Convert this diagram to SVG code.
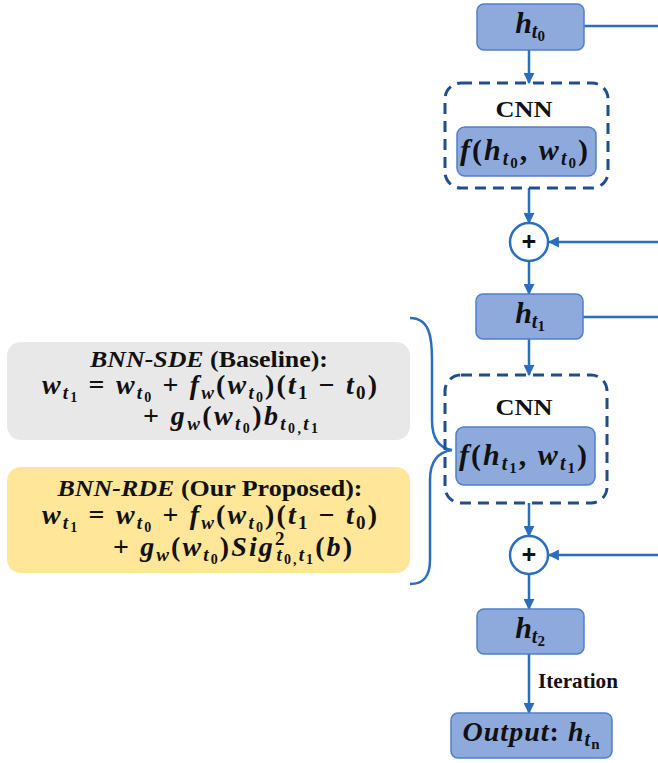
<svg xmlns="http://www.w3.org/2000/svg" width="658" height="763" viewBox="0 0 658 763">
<defs>
<style>
.node{fill:#8eaadc;stroke:#4f7fc8;stroke-width:1.5}
.dash{fill:none;stroke:#1f4e8c;stroke-width:3;stroke-dasharray:11 7}
.plus{fill:#fff;stroke:#2a6ebd;stroke-width:2.5}
.con{fill:none;stroke:#2a6ebd;stroke-width:2.5}
.m{font-family:"Liberation Serif","Times New Roman","Tinos","Noto Serif","DejaVu Serif",serif;font-weight:bold;font-style:italic;fill:#111}
.u{font-style:normal}
.t{font-family:"Liberation Serif","Times New Roman","Tinos","Noto Serif","DejaVu Serif",serif;font-weight:bold;fill:#111}
.pl{font-family:"Noto Sans","Liberation Sans",sans-serif;font-weight:bold;fill:#111}
.sb{font-size:19px}
.ss{font-size:14px;font-style:normal}
.nb{font-size:20px}
.ns{font-size:15px;font-style:normal}
</style>
<marker id="ah" viewBox="0 0 10 10" refX="9" refY="5" markerWidth="4.4" markerHeight="4.4" orient="auto" markerUnits="strokeWidth">
<path d="M0,0 L10,5 L0,10 z" fill="#2a6ebd"/>
</marker>
</defs>
<rect width="658" height="763" fill="#fff"/>

<g id="connectors">
<line class="con" x1="584" y1="26" x2="658" y2="26"/>
<line class="con" x1="529" y1="50" x2="529" y2="83" marker-end="url(#ah)"/>
<line class="con" x1="529" y1="188" x2="529" y2="223" marker-end="url(#ah)"/>
<line class="con" x1="658" y1="242" x2="549" y2="242" marker-end="url(#ah)"/>
<line class="con" x1="529" y1="261" x2="529" y2="294" marker-end="url(#ah)"/>
<line class="con" x1="583" y1="317" x2="658" y2="317"/>
<line class="con" x1="529" y1="339" x2="529" y2="375" marker-end="url(#ah)"/>
<line class="con" x1="529" y1="503" x2="529" y2="536" marker-end="url(#ah)"/>
<line class="con" x1="658" y1="555" x2="549" y2="555" marker-end="url(#ah)"/>
<line class="con" x1="529" y1="574" x2="529" y2="609" marker-end="url(#ah)"/>
<line class="con" x1="529" y1="654" x2="529" y2="713" marker-end="url(#ah)"/>
<path class="con" d="M410,318 C430,318 432,338 432,360 L432,420 C432,438 438,448 452,450"/>
<path class="con" d="M452,450 C438,452 430,462 430,480 L430,560 C430,576 424,584 410,584"/>
<text class="t" x="538" y="688" font-size="21" textLength="80" lengthAdjust="spacingAndGlyphs">Iteration</text>
</g>

<g id="h_t0">
<rect class="node" x="477" y="4" width="107" height="46" rx="7"/>
<text class="m" x="530" y="33" font-size="30" text-anchor="middle">h<tspan class="nb" dy="5">t</tspan><tspan class="ns" dy="3">0</tspan></text>
</g>

<g id="cnn0">
<rect class="dash" x="445" y="83" width="163" height="105" rx="16"/>
<text class="t" x="524" y="117" font-size="24" text-anchor="middle" textLength="57" lengthAdjust="spacingAndGlyphs">CNN</text>
<rect class="node" x="457" y="127" width="139" height="49" rx="8"/>
<text class="m" x="524" y="160" font-size="30" text-anchor="middle" textLength="128" lengthAdjust="spacing">f<tspan class="u">(</tspan>h<tspan class="nb" dy="5">t</tspan><tspan class="ns" dy="3">0</tspan><tspan class="u" dy="-8">, </tspan>w<tspan class="nb" dy="5">t</tspan><tspan class="ns" dy="3">0</tspan><tspan class="u" dy="-8">)</tspan></text>
</g>

<g id="plus0">
<circle class="plus" cx="529" cy="242" r="19"/>
<text class="pl" x="529" y="251" font-size="26" text-anchor="middle">+</text>
</g>

<g id="h_t1">
<rect class="node" x="476" y="294" width="107" height="45" rx="7"/>
<text class="m" x="530" y="323" font-size="30" text-anchor="middle">h<tspan class="nb" dy="5">t</tspan><tspan class="ns" dy="3">1</tspan></text>
</g>

<g id="cnn1">
<rect class="dash" x="445" y="375" width="162" height="128" rx="16"/>
<text class="t" x="524" y="415" font-size="24" text-anchor="middle" textLength="57" lengthAdjust="spacingAndGlyphs">CNN</text>
<rect class="node" x="456" y="427" width="139" height="58" rx="8"/>
<text class="m" x="523" y="465" font-size="30" text-anchor="middle" textLength="128" lengthAdjust="spacing">f<tspan class="u">(</tspan>h<tspan class="nb" dy="5">t</tspan><tspan class="ns" dy="3">1</tspan><tspan class="u" dy="-8">, </tspan>w<tspan class="nb" dy="5">t</tspan><tspan class="ns" dy="3">1</tspan><tspan class="u" dy="-8">)</tspan></text>
</g>

<g id="plus1">
<circle class="plus" cx="529" cy="555" r="19"/>
<text class="pl" x="529" y="564" font-size="26" text-anchor="middle">+</text>
</g>

<g id="h_t2">
<rect class="node" x="477" y="609" width="107" height="45" rx="7"/>
<text class="m" x="530" y="638" font-size="30" text-anchor="middle">h<tspan class="nb" dy="5">t</tspan><tspan class="ns" dy="3">2</tspan></text>
</g>

<g id="output">
<rect class="node" x="451" y="713" width="161" height="45" rx="7"/>
<text class="m" x="531" y="741" font-size="28" text-anchor="middle" textLength="137" lengthAdjust="spacing">Output<tspan class="u">: </tspan>h<tspan class="nb" dy="5">t</tspan><tspan class="ns" dy="3" font-style="italic" font-size="17">n</tspan></text>
</g>

<g id="baseline">
<rect x="7" y="342" width="403" height="98" rx="14" fill="#e8e8e8"/>
<text class="t" x="209" y="367" font-size="24" text-anchor="middle" textLength="238" lengthAdjust="spacingAndGlyphs"><tspan font-style="italic">BNN-SDE</tspan> (Baseline):</text>
<text class="m" x="42" y="394" font-size="28" textLength="335" lengthAdjust="spacing">w<tspan class="sb" dy="5">t</tspan><tspan class="ss" dy="3">1</tspan><tspan class="u" dy="-8"> = </tspan>w<tspan class="sb" dy="5">t</tspan><tspan class="ss" dy="3">0</tspan><tspan class="u" dy="-8"> + </tspan>f<tspan class="sb" dy="5">w</tspan><tspan class="u" dy="-5">(</tspan>w<tspan class="sb" dy="5">t</tspan><tspan class="ss" dy="3">0</tspan><tspan class="u" dy="-8">)(</tspan>t<tspan class="sb u" dy="5">1</tspan><tspan class="u" dy="-5"> − </tspan>t<tspan class="sb u" dy="5">0</tspan><tspan class="u" dy="-5">)</tspan></text>
<text class="m" x="143" y="425" font-size="28" textLength="175" lengthAdjust="spacing"><tspan class="u">+ </tspan>g<tspan class="sb" dy="5">w</tspan><tspan class="u" dy="-5">(</tspan>w<tspan class="sb" dy="5">t</tspan><tspan class="ss" dy="3">0</tspan><tspan class="u" dy="-8">)</tspan>b<tspan class="sb" dy="5">t</tspan><tspan class="ss" dy="3">0,</tspan><tspan class="sb" dy="-3">t</tspan><tspan class="ss" dy="3">1</tspan></text>
</g>

<g id="proposed">
<rect x="7" y="467" width="403" height="106" rx="14" fill="#ffe699"/>
<text class="t" x="210" y="496" font-size="24" text-anchor="middle" textLength="305" lengthAdjust="spacingAndGlyphs"><tspan font-style="italic">BNN-RDE</tspan> (Our Proposed):</text>
<text class="m" x="42" y="524" font-size="28" textLength="335" lengthAdjust="spacing">w<tspan class="sb" dy="5">t</tspan><tspan class="ss" dy="3">1</tspan><tspan class="u" dy="-8"> = </tspan>w<tspan class="sb" dy="5">t</tspan><tspan class="ss" dy="3">0</tspan><tspan class="u" dy="-8"> + </tspan>f<tspan class="sb" dy="5">w</tspan><tspan class="u" dy="-5">(</tspan>w<tspan class="sb" dy="5">t</tspan><tspan class="ss" dy="3">0</tspan><tspan class="u" dy="-8">)(</tspan>t<tspan class="sb u" dy="5">1</tspan><tspan class="u" dy="-5"> − </tspan>t<tspan class="sb u" dy="5">0</tspan><tspan class="u" dy="-5">)</tspan></text>
<text class="m" x="113" y="556" font-size="28" textLength="239" lengthAdjust="spacing"><tspan class="u">+ </tspan>g<tspan class="sb" dy="5">w</tspan><tspan class="u" dy="-5">(</tspan>w<tspan class="sb" dy="5">t</tspan><tspan class="ss" dy="3">0</tspan><tspan class="u" dy="-8">)</tspan>Sig<tspan class="sb u" dy="-11">2</tspan><tspan class="sb" dx="-10" dy="16">t</tspan><tspan class="ss" dy="3">0,</tspan><tspan class="sb" dy="-3">t</tspan><tspan class="ss" dy="3">1</tspan><tspan class="u" dy="-8">(</tspan>b<tspan class="u">)</tspan></text>
</g>
</svg>
